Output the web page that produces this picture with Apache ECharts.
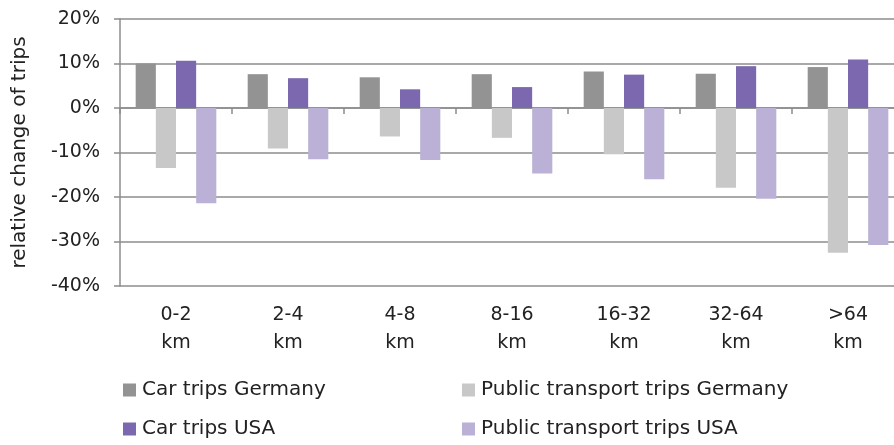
<!DOCTYPE html>
<html>
<head>
<meta charset="utf-8">
<script src="https://cdn.jsdelivr.net/npm/echarts@6/dist/echarts.min.js"></script>
<style>
  html, body { margin: 0; padding: 0; background: #fff; }
  #chart { width: 894px; height: 445px; }
</style>
</head>
<body>
<div id="chart"></div>
<script>
// distance classes
var categories = ['0-2\nkm', '2-4\nkm', '4-8\nkm', '8-16\nkm', '16-32\nkm', '32-64\nkm', '>64\nkm'];
// relative change in %
var carGermany = [10.0, 7.6, 6.9, 7.6, 8.2, 7.7, 9.2];
var ptGermany = [-13.5, -9.1, -6.4, -6.7, -10.4, -17.9, -32.5];
var carUSA = [10.6, 6.7, 4.2, 4.7, 7.5, 9.4, 10.9];
var ptUSA = [-21.4, -11.5, -11.7, -14.7, -16.0, -20.4, -30.8];
var yTicks = { min: -40, max: 20, step: 10 };

var font = 'DejaVu Sans';
var textColor = '#222';
var lineColor = '#8c8c8c';

var myChart = echarts.init(document.getElementById('chart'), null, { renderer: 'canvas' });

function bar(name, data, color) {
    return {
        name: name,
        type: 'bar',
        xAxisIndex: 0,
        data: data,
        barGap: '0%',
        barCategoryGap: '28%',
        itemStyle: { color: color },
        emphasis: { disabled: true }
    };
}

// one legend per entry, so the two columns sit where they do in the original
function legendItem(name, left, top) {
    return {
        data: [name],
        left: left, top: top,
        itemWidth: 13, itemHeight: 13,
        icon: 'rect',
        textStyle: { fontFamily: font, fontSize: 20, color: textColor, padding: [0, 0, 0, 1] }
    };
}

var option = {
    animation: false,
    textStyle: { fontFamily: font },
    grid: {
        left: 120, width: 784, top: 19, bottom: 159,
        containLabel: false, outerBoundsMode: 'none'
    },
    legend: [
        legendItem('Car trips Germany', 118, 375),
        legendItem('Car trips USA', 118, 414),
        legendItem('Public transport trips Germany', 457, 375),
        legendItem('Public transport trips USA', 457, 414)
    ],
    xAxis: [
        {
            type: 'category',
            data: categories,
            axisLine: { onZero: true, lineStyle: { color: lineColor, width: 1.5 } },
            axisTick: { show: true, length: 6, lineStyle: { color: lineColor, width: 1.5 } },
            axisLabel: { show: false }
        },
        {
            type: 'category',
            data: categories,
            position: 'bottom',
            axisLine: { show: false, onZero: false },
            axisTick: { show: false },
            axisLabel: {
                show: true, margin: 15, fontSize: 19, lineHeight: 28,
                color: textColor, fontFamily: font
            }
        }
    ],
    yAxis: {
        type: 'value',
        min: yTicks.min,
        max: yTicks.max,
        interval: yTicks.step,
        name: 'relative change of trips',
        nameLocation: 'middle',
        nameRotate: 90,
        nameGap: 90,
        nameTextStyle: { fontSize: 20, color: textColor, fontFamily: font },
        axisLine: { show: true, lineStyle: { color: lineColor, width: 1.5 } },
        axisTick: { show: true, length: 6, lineStyle: { color: lineColor, width: 1.5 } },
        axisLabel: {
            formatter: '{value}%', fontSize: 19, margin: 20,
            color: textColor, fontFamily: font
        },
        splitLine: { show: true, lineStyle: { color: lineColor, width: 1.5 } }
    },
    series: [
        bar('Car trips Germany', carGermany, '#939393'),
        bar('Public transport trips Germany', ptGermany, '#c8c8c8'),
        bar('Car trips USA', carUSA, '#7b68ae'),
        bar('Public transport trips USA', ptUSA, '#bbb1d6')
    ]
};

option && myChart.setOption(option);
</script>
</body>
</html>
